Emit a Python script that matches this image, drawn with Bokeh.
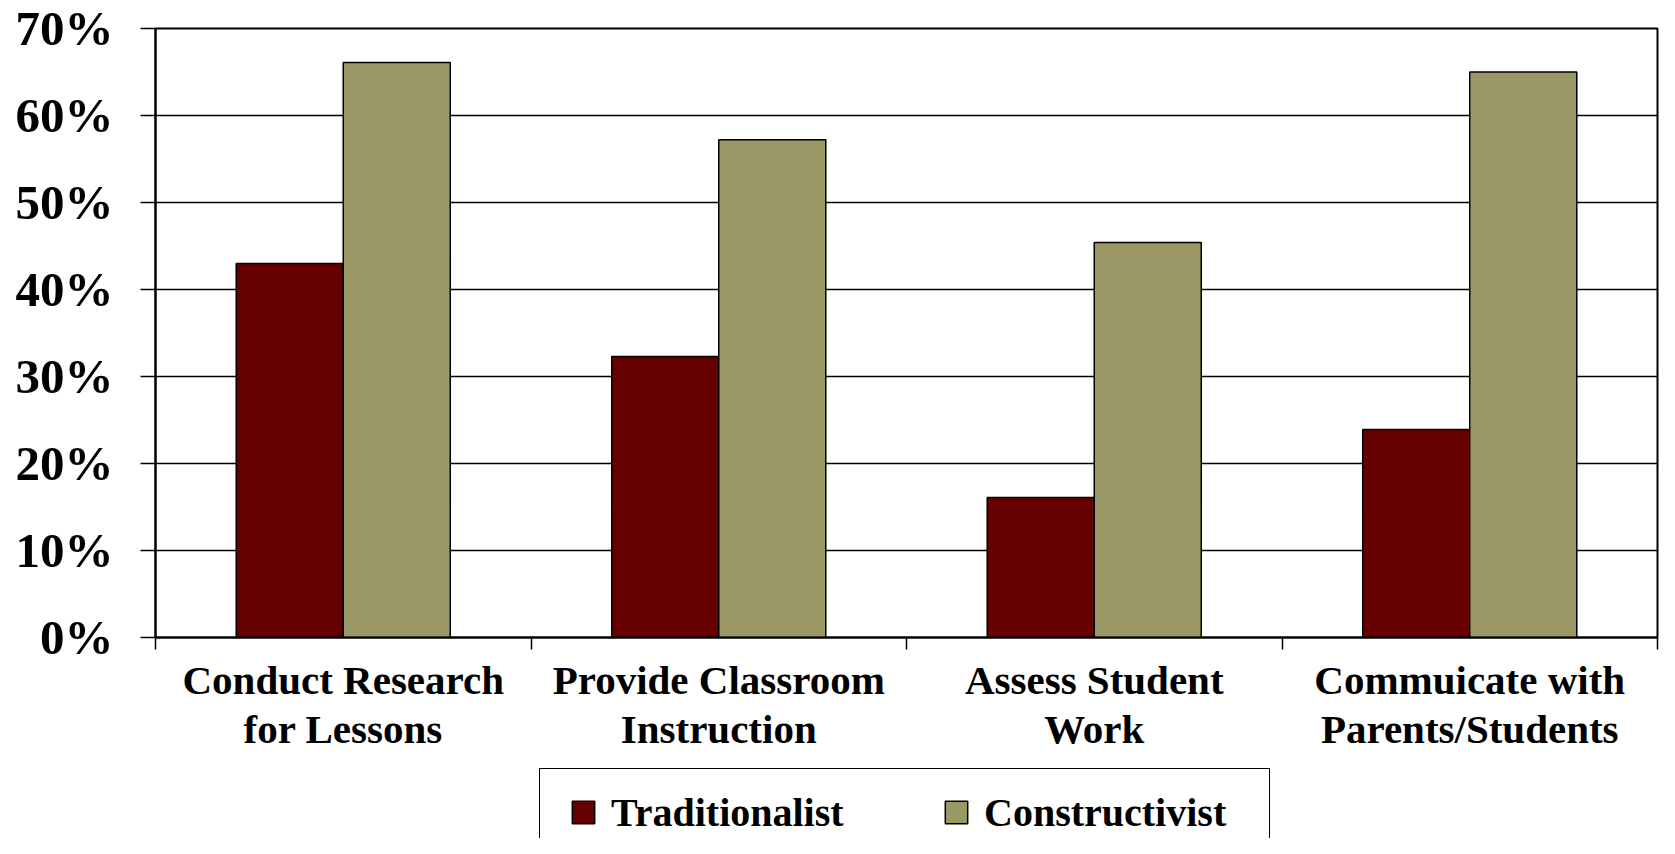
import numpy as np
from bokeh.plotting import figure
from bokeh.layouts import column
from bokeh.models import (Range1d, FixedTicker, NumeralTickFormatter, Legend,
                          LegendItem, ColumnDataSource)
from bokeh.transform import dodge
from bokeh.embed import file_html
from bokeh.resources import INLINE

# ---------------- data ----------------
categories = ["Conduct Research\nfor Lessons",
              "Provide Classroom\nInstruction",
              "Assess Student\nWork",
              "Commuicate with\nParents/Students"]
series_names = ["Traditionalist", "Constructivist"]
traditionalist = [0.430, 0.323, 0.161, 0.239]
constructivist = [0.661, 0.572, 0.454, 0.650]
y_ticks = [0.0, 0.1, 0.2, 0.3, 0.4, 0.5, 0.6, 0.7]
colors = ["#660000", "#9A9966"]

# ---------------- styles ----------------
FONT = "Liberation Serif"
bar_w = 0.285

n = len(categories)
centers = np.arange(n) + 0.5
src = ColumnDataSource(dict(x=centers, trad=traditionalist, cons=constructivist))

p = figure(width=1659, height=766,
           x_range=Range1d(0, n), y_range=Range1d(0, y_ticks[-1]),
           output_backend="svg", toolbar_location=None,
           min_border_left=155, min_border_right=2, min_border_top=28, min_border_bottom=129)

p.vbar(x=dodge("x", -bar_w / 2), top="trad", width=bar_w, source=src,
       fill_color=colors[0], line_color="black", line_width=1.5)
p.vbar(x=dodge("x", bar_w / 2), top="cons", width=bar_w, source=src,
       fill_color=colors[1], line_color="black", line_width=1.5)

# grid / outline
p.xgrid.visible = False
p.ygrid.grid_line_color = "black"
p.ygrid.grid_line_width = 1.3
p.ygrid.ticker = FixedTicker(ticks=y_ticks)
p.outline_line_color = "black"
p.outline_line_width = 2
p.background_fill_color = "white"
p.border_fill_color = "white"

# y axis
p.yaxis.ticker = FixedTicker(ticks=y_ticks)
p.yaxis.formatter = NumeralTickFormatter(format="0%")
p.yaxis.axis_line_color = "black"
p.yaxis.axis_line_width = 2
p.yaxis.major_tick_out = 15
p.yaxis.major_tick_in = 0
p.yaxis.major_tick_line_width = 1.5
p.yaxis.minor_tick_line_color = None
p.yaxis.major_label_standoff = 27
p.yaxis.major_label_text_font = FONT
p.yaxis.major_label_text_font_style = "bold"
p.yaxis.major_label_text_font_size = "49px"
p.yaxis.major_label_text_color = "black"

# x axis: labels at centers, tick marks at category boundaries
p.xaxis.ticker = FixedTicker(ticks=list(centers), minor_ticks=list(range(n + 1)))
p.xaxis.major_label_overrides = {float(c): lab for c, lab in zip(centers, categories)}
p.xaxis.axis_line_color = "black"
p.xaxis.axis_line_width = 2
p.xaxis.major_tick_out = 0
p.xaxis.major_tick_in = 0
p.xaxis.major_tick_line_color = None
p.xaxis.minor_tick_out = 12
p.xaxis.minor_tick_in = 0
p.xaxis.minor_tick_line_color = "black"
p.xaxis.minor_tick_line_width = 1.5
p.xaxis.major_label_standoff = 7
p.xaxis.major_label_text_font = FONT
p.xaxis.major_label_text_font_style = "bold"
p.xaxis.major_label_text_font_size = "41px"
p.xaxis.major_label_text_color = "black"
p.xaxis.major_label_text_line_height = 1.08

# ---------------- legend strip ----------------
pl = figure(width=1659, height=72, x_range=Range1d(0, 1), y_range=Range1d(0, 1),
            output_backend="svg", toolbar_location=None,
            x_axis_location=None, y_axis_location=None,
            min_border_left=0, min_border_right=0, min_border_top=0, min_border_bottom=0)
pl.grid.visible = False
pl.outline_line_color = None
pl.background_fill_color = "white"
pl.border_fill_color = "white"

r1 = pl.scatter(x="x", y="trad", source=src, marker="square", fill_color=colors[0],
                line_color="black", line_width=1.5, visible=False)
r2 = pl.scatter(x="x", y="cons", source=src, marker="square", fill_color=colors[1],
                line_color="black", line_width=1.5, visible=False)
legend = Legend(items=[LegendItem(label=series_names[0], renderers=[r1]),
                       LegendItem(label=series_names[1], renderers=[r2])],
                orientation="horizontal", location=(384, -18),
                glyph_width=56, glyph_height=56, label_standoff=0,
                label_width=270, spacing=47, padding=15,
                border_line_color="black", border_line_width=1.5, border_line_alpha=1,
                background_fill_color="white", background_fill_alpha=1,
                inactive_fill_alpha=0,
                label_text_font=FONT, label_text_font_style="bold",
                label_text_font_size="40px", label_text_color="black",
                click_policy="none")
pl.add_layout(legend, "center")

layout = column(p, pl, spacing=0)
open("out.html", "w").write(file_html(layout, INLINE))
